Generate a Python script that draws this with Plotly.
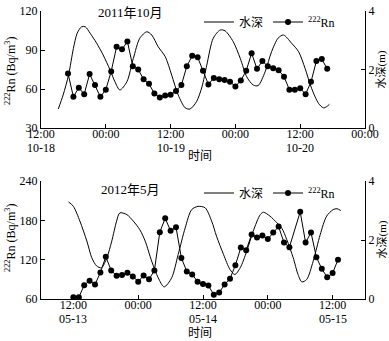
import pandas as pd
import plotly.graph_objects as go
from plotly.subplots import make_subplots

# ---- 2011-10 panel ----
base_a = pd.Timestamp("2011-10-18 12:00")
rn_a_hours = list(range(5, 54))
rn_a = [72, 54, 61, 56, 71.5, 63, 54, 59.5, 73.5, 92.5, 90.5, 96.5, 77.5, 75, 67.5,
        64, 56.5, 53.5, 55, 55.5, 58.5, 63, 77.5, 85.5, 84.5, 74, 63.5, 68.5, 67.5,
        67, 65.5, 62, 66.5, 74, 87.5, 75.5, 81.5, 77.5, 76, 74.5, 69.5, 59.5, 59.5,
        60.5, 56, 65.5, 81.5, 83, 75.5]
depth_a_hours = [3.2, 4.1, 5.1, 6.0, 6.7, 7.5, 8.2, 9.1, 10.3, 11.5, 12.8, 13.7, 14.6,
                 15.9, 17.1, 18.3, 19.6, 20.5, 21.7, 23.0, 24.2, 25.4, 26.7, 27.6,
                 28.8, 29.8, 30.7, 31.9, 33.2, 34.1, 35.6, 36.9, 38.1, 39.3, 40.2,
                 41.5, 42.7, 43.9, 44.9, 46.4, 47.7, 48.9, 50.1, 51.4, 52.3, 52.9, 53.4]
depth_a = [0.65, 1.13, 1.81, 2.72, 3.24, 3.46, 3.46, 3.24, 2.9, 2.5, 1.98, 1.58, 1.3,
           1.58, 2.38, 3.07, 3.29, 3.18, 2.78, 2.44, 1.81, 1.13, 0.69, 0.65,
           0.9, 1.4, 2.15, 3.07, 3.35, 3.32, 2.95, 2.38, 1.75, 1.47, 1.45,
           1.92, 2.61, 3.07, 3.18, 2.9, 2.61, 2.04, 1.36, 0.84, 0.69, 0.73, 0.81]
ticks_a_hours = [0, 12, 24, 36, 48, 60]
ticks_a_text = ["12:00", "00:00", "12:00", "00:00", "12:00", "00:00"]
dates_a_hours = [0, 24, 48]
dates_a_text = ["10-18", "10-19", "10-20"]

# ---- 2012-05 panel ----
base_b = pd.Timestamp("2012-05-13 06:00")
rn_b_hours = list(range(6, 47)) + list(range(48, 56))
rn_b = [62.5, 62.5, 81, 88, 82, 100.5, 124.5, 103.5, 95.5, 96.5, 100, 94.5, 86.5, 96,
        90, 103.5, 162, 183, 164, 169.5, 122.5, 102, 97.5, 86.5, 83, 80.5, 66.5, 70,
        82, 91, 111.5, 138.5, 134.5, 158.5, 154, 157, 151.5, 161.5, 170.5, 146, 139,
        193, 146, 161.5, 123.5, 106, 93, 99.5, 120]
depth_b_hours = [5.1, 6.0, 7.2, 8.5, 9.4, 10.3, 11.2, 12.2, 13.1, 14.0, 14.6, 15.9, 17.1,
                 18.3, 19.3, 20.5, 21.7, 22.8, 24.2, 25.4, 26.7, 27.9, 29.1, 30.4,
                 31.6, 32.5, 33.8, 35.0, 35.9, 36.9, 38.1, 39.3, 40.6, 41.2, 42.4,
                 43.7, 44.6, 45.5, 46.7, 47.6, 48.3, 49.2, 50.4, 51.7, 52.9, 54.1,
                 54.8, 55.5]
depth_b = [3.29, 3.14, 2.64, 1.96, 1.4, 1.12, 1.06, 1.4, 1.96, 2.64, 2.92, 2.86, 2.64,
           2.35, 1.96, 1.28, 0.72, 0.41, 0.72, 1.51, 2.41, 3.03, 3.14, 3.09,
           2.64, 2.13, 1.51, 1.0, 0.83, 1.06, 1.62, 2.3, 2.86, 2.94, 2.81,
           2.58, 2.4, 2.02, 1.4, 0.83, 0.58, 0.66, 1.28, 2.18, 2.81, 3.03,
           3.06, 3.0]
ticks_b_hours = [6, 18, 30, 42, 54]
ticks_b_text = ["12:00", "00:00", "12:00", "00:00", "12:00"]
dates_b_hours = [6, 30, 54]
dates_b_text = ["05-13", "05-14", "05-15"]


def at(base, hours):
    return base + pd.to_timedelta(hours, unit="h")


SERIF = "Liberation Serif, Noto Sans CJK SC"
H = 288.0  # plot height in px (341 - 11 - 42)
W = 324.0  # plot width in px (389 - 41 - 24)
TOP_LO = 1 - 117 / H
BOT_HI = 1 - 170 / H

fig = make_subplots(rows=2, cols=1, specs=[[{"secondary_y": True}], [{"secondary_y": True}]])

panels = [
    (1, base_a, rn_a_hours, rn_a, depth_a_hours, depth_a, "legend"),
    (2, base_b, rn_b_hours, rn_b, depth_b_hours, depth_b, "legend2"),
]
for row, base, rh, rv, dh, dv, leg in panels:
    fig.add_trace(go.Scatter(x=at(base, dh), y=dv, mode="lines", name="水深",
                             line=dict(color="black", width=1, shape="spline", smoothing=0.8),
                             legend=leg), row=row, col=1, secondary_y=True)
    fig.add_trace(go.Scatter(x=at(base, rh), y=rv, mode="lines+markers",
                             name="<sup>222</sup>Rn",
                             line=dict(color="black", width=1),
                             marker=dict(color="black", size=6),
                             legend=leg), row=row, col=1, secondary_y=False)

axis_style = dict(showgrid=False, zeroline=False, showline=True, linecolor="black",
                  linewidth=1, ticks="inside", ticklen=4, tickcolor="black",
                  tickfont=dict(family=SERIF, size=12, color="black"), automargin=False)

fig.update_xaxes(ticklabelstandoff=-5, domain=[0, 1], **axis_style)
fig.update_yaxes(**axis_style)

fig.update_xaxes(range=[at(base_a, 0), at(base_a, 60)], tickvals=at(base_a, ticks_a_hours),
                 ticktext=ticks_a_text, row=1, col=1)
fig.update_xaxes(range=[at(base_b, 0), at(base_b, 60)], tickvals=at(base_b, ticks_b_hours),
                 ticktext=ticks_b_text, row=2, col=1)

fig.update_yaxes(range=[30, 120], tickvals=[30, 60, 90, 120], row=1, col=1, secondary_y=False)
fig.update_yaxes(range=[0, 4], tickvals=[0, 2, 4], row=1, col=1, secondary_y=True)
fig.update_yaxes(range=[60, 240], tickvals=[60, 120, 180, 240], row=2, col=1, secondary_y=False)
fig.update_yaxes(range=[0, 4], tickvals=[0, 2, 4], row=2, col=1, secondary_y=True)

legend_style = dict(orientation="h", xanchor="right", yanchor="middle",
                    bgcolor="rgba(0,0,0,0)", font=dict(family=SERIF, size=12, color="black"),
                    itemwidth=30, tracegroupgap=0)
fig.update_layout(
    width=389, height=341,
    margin=dict(l=41, r=24, t=11, b=42, autoexpand=False),
    paper_bgcolor="white", plot_bgcolor="white",
    yaxis=dict(domain=[TOP_LO, 1]), yaxis2=dict(domain=[TOP_LO, 1]),
    yaxis3=dict(domain=[0, BOT_HI]), yaxis4=dict(domain=[0, BOT_HI]),
    legend=dict(x=(340 - 41) / W, y=1 - 11 / H, **legend_style),
    legend2=dict(x=(340 - 41) / W, y=1 - 182 / H, **legend_style),
    showlegend=True,
)

# date line under the time tick labels
for xref, base, hrs, txt, y0 in [("x", base_a, dates_a_hours, dates_a_text, TOP_LO),
                                 ("x2", base_b, dates_b_hours, dates_b_text, 0)]:
    for h, t in zip(hrs, txt):
        fig.add_annotation(text=t, x=at(base, h), y=y0 - 19.5 / H, xref=xref, yref="paper",
                           showarrow=False, xanchor="center", yanchor="middle",
                           font=dict(family=SERIF, size=12, color="black"))

notes = [
    ("2011年10月", (130 - 41) / W, 1 - 2 / H, 0, 13),
    ("2012年5月", (130 - 41) / W, 1 - 178 / H, 0, 13),
    ("时间", (200 - 41) / W, 1 - 145 / H, 0, 12),
    ("时间", (200 - 41) / W, 1 - 321.5 / H, 0, 12),
    ("<sup>222</sup>Rn (Bq/m<sup>3</sup>)", (10 - 41) / W, 1 - 60 / H, -90, 12),
    ("<sup>222</sup>Rn (Bq/m<sup>3</sup>)", (10 - 41) / W, 1 - 227 / H, -90, 12),
    ("水深(m)", (381.5 - 41) / W, 1 - 58 / H, -90, 11),
    ("水深(m)", (381.5 - 41) / W, 1 - 228 / H, -90, 11),
]
for text, x, y, ang, size in notes:
    fig.add_annotation(text=text, x=x, y=y, xref="paper", yref="paper", showarrow=False,
                       xanchor="center", yanchor="middle", textangle=ang,
                       font=dict(family=SERIF, size=size, color="black"))

# page body has a default 8px margin; drop it so the figure fills the window
fig.write_html("out.html", config={"displayModeBar": False},
               post_script="document.body.style.margin = '0';")
